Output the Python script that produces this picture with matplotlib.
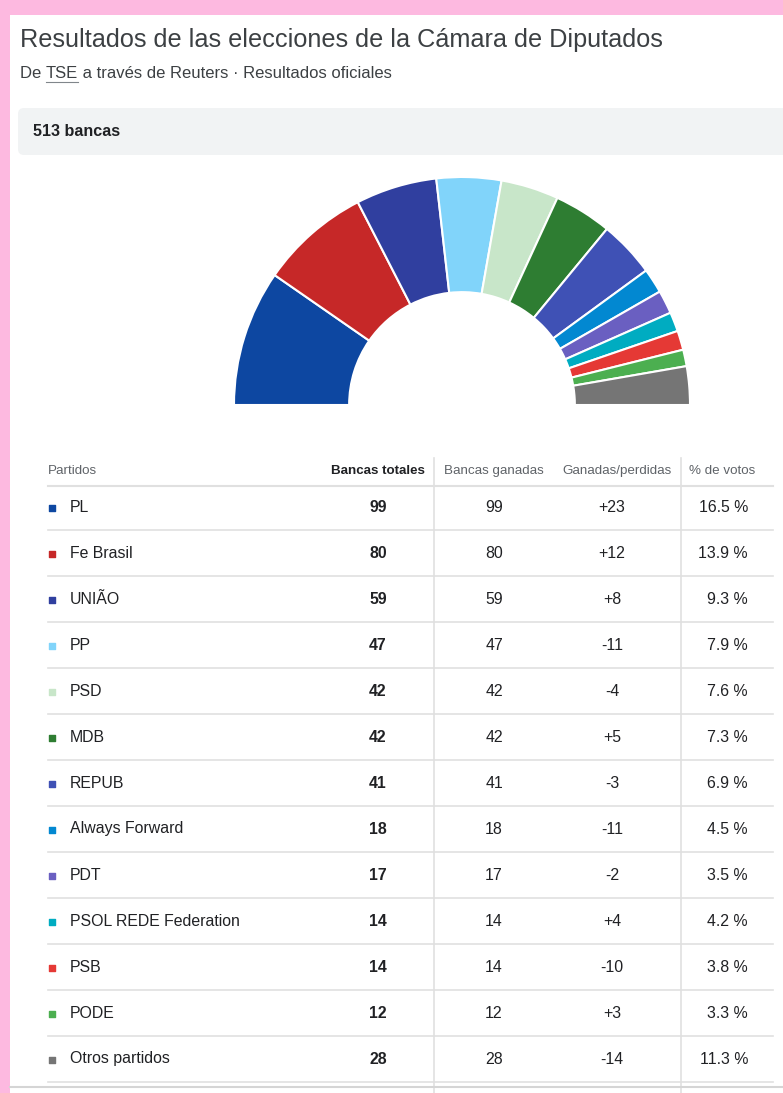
import numpy as np
import matplotlib.pyplot as plt
from matplotlib.patches import Rectangle, FancyBboxPatch

plt.rcParams['font.family'] = ['Liberation Sans', 'DejaVu Sans']

# data
partidos = ['PL', 'Fe Brasil', 'UNIÃO', 'PP', 'PSD', 'MDB', 'REPUB', 'Always Forward',
            'PDT', 'PSOL REDE Federation', 'PSB', 'PODE', 'Otros partidos']
bancas_totales = [99, 80, 59, 47, 42, 42, 41, 18, 17, 14, 14, 12, 28]
bancas_ganadas = [99, 80, 59, 47, 42, 42, 41, 18, 17, 14, 14, 12, 28]
ganadas_perdidas = ['+23', '+12', '+8', '-11', '-4', '+5', '-3', '-11', '-2', '+4', '-10', '+3', '-14']
pct_votos = [16.5, 13.9, 9.3, 7.9, 7.6, 7.3, 6.9, 4.5, 3.5, 4.2, 3.8, 3.3, 11.3]
colores = ['#0D47A1', '#C62828', '#303F9F', '#81D4FA', '#C8E6C9', '#2E7D32', '#3F51B5',
           '#0288D1', '#6A5FC1', '#00ACC1', '#E53935', '#4CAF50', '#757575']
total = 513

W, H = 783, 1093
fig = plt.figure(figsize=(W / 100, H / 100), dpi=100)
fig.patch.set_facecolor('#FDB9E0')

ax = fig.add_axes([0, 0, 1, 1])
ax.set_xlim(0, W)
ax.set_ylim(H, 0)
ax.axis('off')

# white card
ax.add_patch(Rectangle((10, 15), W - 10, H - 15, facecolor='white', edgecolor='none'))

ax.text(20, 40, 'Resultados de las elecciones de la Cámara de Diputados',
        fontsize=18.2, color='#3c4043', va='center', ha='left')

# subtitle pieces, placed one after the other
rend = fig.canvas.get_renderer()
x0 = 20
sub_parts = ['De ', 'TSE', ' a través de Reuters · Resultados oficiales']
for k, s in enumerate(sub_parts):
    t = ax.text(x0, 74, s, fontsize=12, color='#3c4043', va='center')
    bb = t.get_window_extent(renderer=rend)
    w = bb.width
    if k == 1:
        ax.plot([x0, x0 + w], [82, 82], color='#80868b', lw=0.8)
    x0 += w

ax.add_patch(FancyBboxPatch((18, 108), W, 47, boxstyle='round,pad=0,rounding_size=6',
                            facecolor='#F1F3F4', edgecolor='none'))
ax.text(33, 132, f'{total} bancas', fontsize=11.6, color='#202124', va='center',
        fontweight='bold')

# hemicycle
cx, cy, r = 462, 405, 228
pax = fig.add_axes([(cx - r) / W, 1 - (cy + r) / H, 2 * r / W, 2 * r / H])
vals = bancas_totales + [total]
cols = colores + ['none']
wedges, _ = pax.pie(vals, colors=cols, startangle=180, counterclock=False, radius=1,
                    wedgeprops=dict(width=0.505, edgecolor='white', linewidth=1.5))
wedges[-1].set_edgecolor('none')
pax.set_xlim(-1, 1)
pax.set_ylim(-1, 1)
pax.set_aspect('equal')
pax.axis('off')

# table
hdr_y = 471
row0 = 507
dy = 46
line_c = '#E0E0E0'
hfs = 9.6
ax.text(48, hdr_y, 'Partidos', fontsize=hfs, color='#5f6368', va='center')
ax.text(425, hdr_y, 'Bancas totales', fontsize=hfs, color='#202124', va='center',
        ha='right', fontweight='bold')
ax.text(494, hdr_y, 'Bancas ganadas', fontsize=hfs, color='#5f6368', va='center', ha='center')
ax.text(617, hdr_y, 'Ganadas/perdidas', fontsize=hfs, color='#5f6368', va='center', ha='center')
ax.text(722, hdr_y, '% de votos', fontsize=hfs, color='#5f6368', va='center', ha='center')

fs = 11.4
ax.plot([48, 773], [486, 486], color=line_c, lw=1.5)
for i, p in enumerate(partidos):
    y = row0 + i * dy
    ax.scatter([52], [y + 1], marker='s', s=22, color=colores[i], zorder=3)
    ax.text(70, y, p, fontsize=fs, color='#202124', va='center')
    ax.text(378, y, str(bancas_totales[i]), fontsize=fs, color='#202124', va='center',
            ha='center', fontweight='bold')
    ax.text(494, y, str(bancas_ganadas[i]), fontsize=fs, color='#202124', va='center', ha='center')
    ax.text(612, y, ganadas_perdidas[i], fontsize=fs, color='#202124', va='center', ha='center')
    ax.text(748, y, f'{pct_votos[i]} %', fontsize=fs, color='#202124', va='center', ha='right')
    ax.plot([48, 773], [y + 23, y + 23], color=line_c, lw=1.2)

for xv in [434, 681]:
    ax.plot([xv, xv], [458, H], color=line_c, lw=1.2)
ax.plot([10, W], [1087, 1087], color='#D5D5D5', lw=1.5)

fig.savefig('out.png', dpi=100, facecolor=fig.get_facecolor())
